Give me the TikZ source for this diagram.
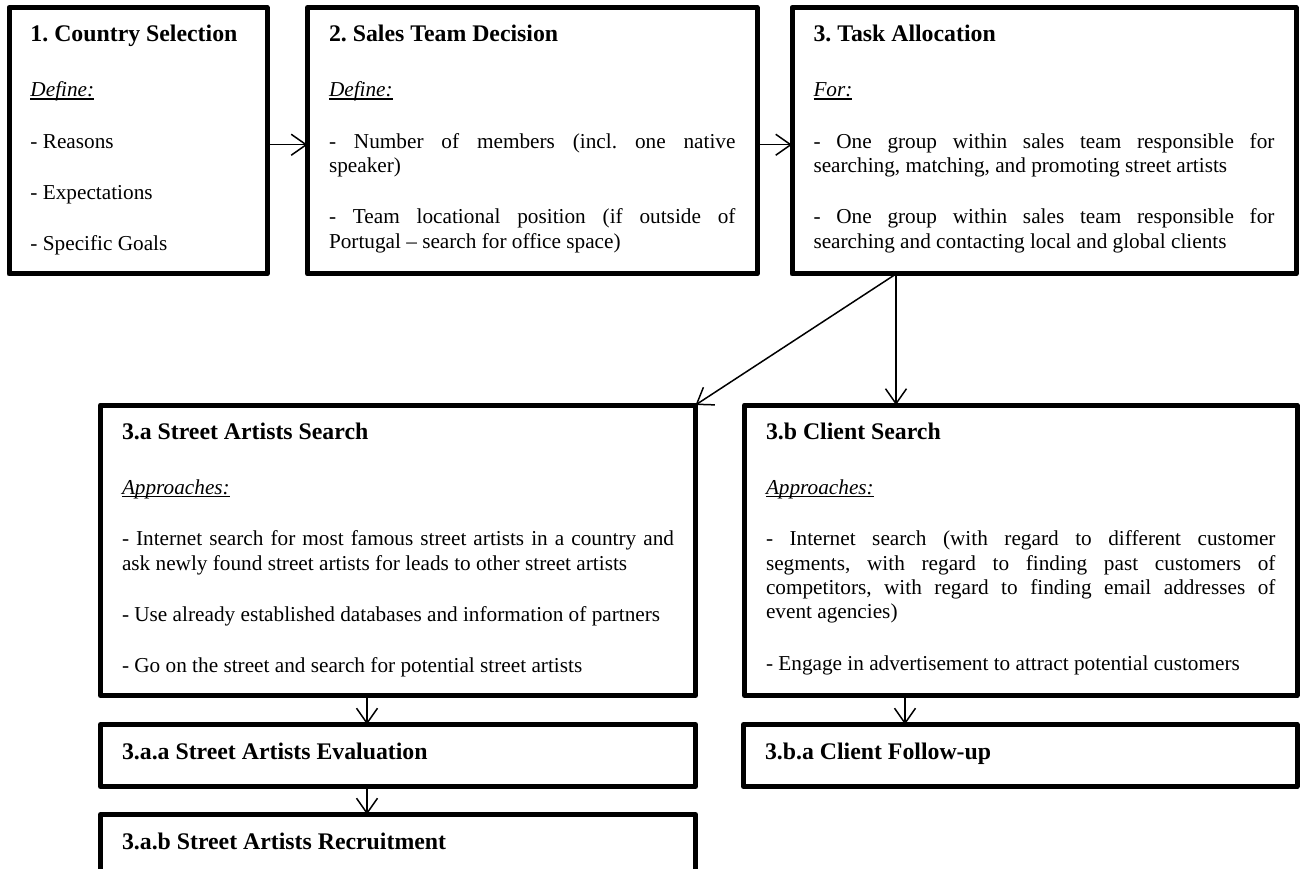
\documentclass[tikz,border=0pt]{standalone}
\usepackage{fontspec}
\setmainfont{Liberation Serif}
\usetikzlibrary{arrows.meta,calc}
\frenchspacing
\hyphenpenalty=10000 \exhyphenpenalty=10000
\tolerance=9999
\newcommand\myul[1]{\leavevmode\setbox0\hbox{#1}\rlap{\rule[-2.6pt]{\wd0}{1.3pt}}\box0}
\newcommand\bxtitle[1]{{\fontsize{23.8pt}{26pt}\selectfont\bfseries\rule{0pt}{34.5pt}#1\par}\vspace{3.7pt}}
\newcommand\bxlabel[1]{\myul{\textit{#1}}\par}
\newcommand\bxbody{\fontsize{21.25pt}{24.3pt}\selectfont\setlength\parskip{27pt}}
\tikzset{
  box/.style={draw, line width=5pt, inner xsep=21.5pt, inner ysep=0pt, outer sep=0pt, anchor=north west, line join=round},
  arr/.style={line width=1.5pt, -{Straight Barb[length=15pt,width=21pt]}}
}
\begin{document}
\begin{tikzpicture}[x=1pt,y=-1pt]
\useasboundingbox (0,0) rectangle (1302,869);
\fill[white] (0,0) rectangle (1302,869);
\clip (0,0) rectangle (1302,869);

\node[box] (t1) at (9,7.5) {\parbox[c][266.5pt][t]{215pt}{\bxbody
\bxtitle{1. Country Selection}
\bxlabel{Define:}
- Reasons\par
- Expectations\par
- Specific Goals\par}};

\node[box] (t2) at (307.5,7.5) {\parbox[c][266.5pt][t]{406.5pt}{\bxbody
\bxtitle{2. Sales Team Decision}
\bxlabel{Define:}
- Number of members (incl. one native \linebreak speaker)\par
- Team locational position (if outside of \linebreak Portugal – search for office space)\par}};

\node[box] (t3) at (792,7.5) {\parbox[c][266.5pt][t]{461pt}{\bxbody
\bxtitle{3. Task Allocation}
\bxlabel{For:}
- One group within sales team responsible for \linebreak searching, matching, and promoting street artists\par
- One group within sales team responsible for \linebreak searching and contacting local and global clients\par}};

\node[box] (sa) at (100.5,405) {\parbox[c][290.5pt][t]{552pt}{\bxbody
\bxtitle{3.a Street Artists Search}
\bxlabel{Approaches:}
- Internet search for most famous street artists in a country and \linebreak ask newly found street artists for leads to other street artists\par
- Use already established databases and information of partners\par
- Go on the street and search for potential street artists\par}};

\node[box] (sb) at (744.5,405) {\parbox[c][290.5pt][t]{509.5pt}{\bxbody
\bxtitle{3.b Client Search}
\bxlabel{Approaches:}
- Internet search (with regard to different customer \linebreak segments, with regard to finding past customers of \linebreak competitors, with regard to finding email addresses of \linebreak event agencies)\par
- Engage in advertisement to attract potential customers\par}};

\node[box] (saa) at (100.5,724.5) {\parbox[c][62pt][t]{552pt}{\bxbody
\bxtitle{3.a.a Street Artists Evaluation}}};

\node[box] (sba) at (743.5,724.5) {\parbox[c][62pt][t]{510.5pt}{\bxbody
\bxtitle{3.b.a Client Follow-up}}};

\node[box] (sab) at (100.5,814.5) {\parbox[c][80pt][t]{552pt}{\bxbody
\bxtitle{3.a.b Street Artists Recruitment}}};

\coordinate (cs) at (896,0);
\coordinate (ca) at (367,0);
\coordinate (cb) at (905,0);

\draw[arr] ([yshift=-4pt]t1.east) -- ([yshift=-4pt]t2.west);
\draw[arr] ([yshift=-4pt]t2.east) -- ([yshift=-4pt]t3.west);
\draw[arr] (t3.south -| cs) -- (sb.north -| cs);
\draw[arr] (t3.south -| cs) -- (sa.north east);
\draw[arr] (sa.south -| ca) -- (saa.north -| ca);
\draw[arr] (saa.south -| ca) -- (sab.north -| ca);
\draw[arr] (sb.south -| cb) -- (sba.north -| cb);
\end{tikzpicture}
\end{document}
